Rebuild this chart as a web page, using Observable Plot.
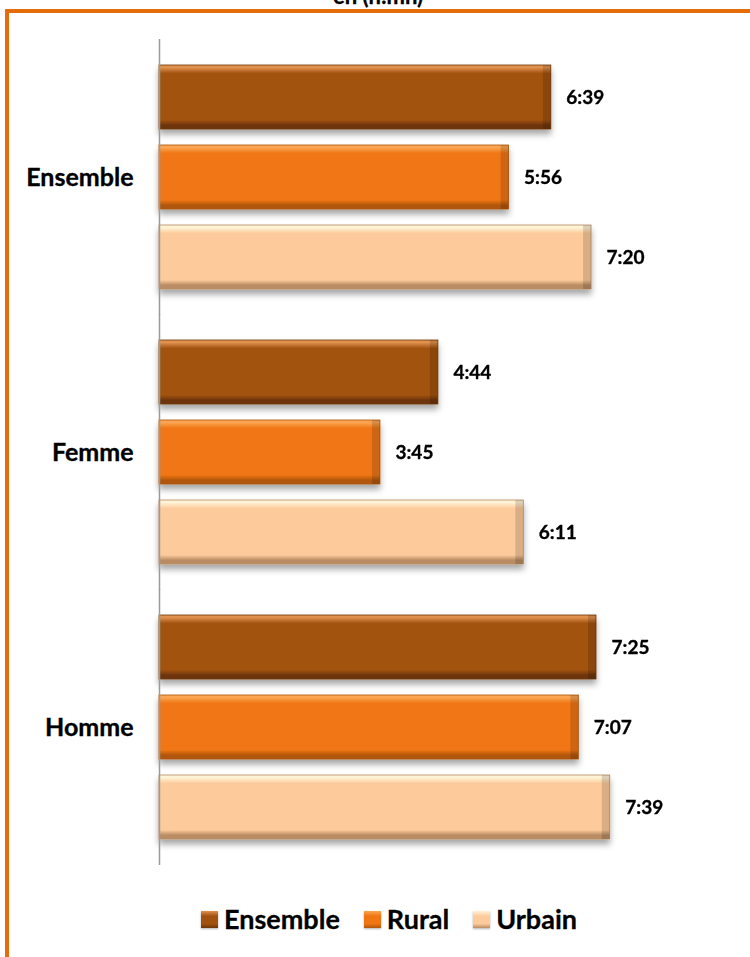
<!DOCTYPE html>
<html>
<head>
<meta charset="utf-8">
<script src="https://cdn.jsdelivr.net/npm/d3@7"></script>
<script src="https://cdn.jsdelivr.net/npm/@observablehq/plot@0.6"></script>
<style>
  html, body { margin: 0; padding: 0; background: #fff; }
  #wrap { position: relative; width: 750px; height: 957px; overflow: hidden; background: #fff; font-family: Lato, "Open Sans", sans-serif; }
  #frame { position: absolute; left: 5px; top: 9px; width: 900px; height: 1100px; border: 4px solid #E46C0A; box-sizing: border-box; }
  #title { position: absolute; left: 0; width: 756px; top: -15px; text-align: center; font-weight: bold; font-size: 22px; line-height: 22px; color: #000; -webkit-text-stroke: 0.3px #000; }
  #chart { position: absolute; left: 0; top: 0; }
  #legend { position: absolute; left: 0; width: 778px; top: 903px; display: flex; justify-content: center; align-items: center; font-weight: bold; font-size: 27px; line-height: 32px; color: #000; -webkit-text-stroke: 0.3px #000; }
  .item { display: flex; align-items: center; margin: 0 12px; }
  .sw { width: 17px; height: 17px; margin-right: 6px; box-shadow: 0 1px 2px rgba(0,0,0,0.3); }
</style>
</head>
<body>
<div id="wrap">
  <div id="frame"></div>
  <div id="title">en (h:mn)</div>
  <div id="chart"></div>
  <div id="legend"></div>
</div>
<script>
// ---- Data ----
const groups = ["Ensemble", "Femme", "Homme"];
const series = ["Ensemble", "Rural", "Urbain"];
const ensembleValues = ["6:39", "4:44", "7:25"];
const ruralValues = ["5:56", "3:45", "7:07"];
const urbainValues = ["7:20", "6:11", "7:39"];
const seriesColors = ["#A2520F", "#F07613", "#FDCB9B"];
const seriesTop = ["#E0914E", "#FBA552", "#FFF3D6"];
const seriesBottom = ["#6E3508", "#B0560C", "#B98C63"];

const valuesBySeries = [ensembleValues, ruralValues, urbainValues];
const toMinutes = s => { const [h, m] = s.split(":").map(Number); return h * 60 + m; };
const rows = groups.flatMap((g, i) => series.map((s, j) => ({
  group: g, series: s, label: valuesBySeries[j][i], minutes: toMinutes(valuesBySeries[j][i])
})));

const gradIds = series.map((s, i) => `grad${i}`);

const svg = Plot.plot({
  width: 750,
  height: 880,
  marginLeft: 159,
  marginRight: 100,
  marginTop: 41,
  marginBottom: 17,
  style: { fontFamily: "Lato, 'Open Sans', sans-serif", background: "transparent", overflow: "visible" },
  facet: { data: rows, y: "group" },
  fy: { domain: groups, paddingInner: 0.1273, paddingOuter: 0.058, axis: null, label: null },
  y: { domain: series, paddingInner: 0.2, paddingOuter: 0.1, axis: null, label: null },
  x: { domain: [0, 500], axis: null },
  color: { type: "ordinal", domain: series, range: gradIds.map(id => `url(#${id})`) },
  marks: [
    Plot.barX(rows, { x: "minutes", y: "series", fill: "series", stroke: d => seriesBottom[series.indexOf(d.series)], strokeWidth: 0.8 }),
    Plot.barX(rows, { x1: "minutes", x2: "minutes", y: "series", insetLeft: -8, fill: "#000", fillOpacity: 0.14 }),
    Plot.ruleX([0], { stroke: "#9a9a9a", strokeWidth: 1.5, insetTop: -18, insetBottom: -18 }),
    Plot.text(rows, { x: "minutes", y: "series", text: "label", dx: 15, textAnchor: "start", fontSize: 19, fontWeight: "bold", fill: "#000", stroke: "#000", strokeWidth: 0.35 }),
    Plot.text(rows, { filter: d => d.series === "Rural", y: "series", text: "group", frameAnchor: "left", dx: -26, textAnchor: "end", fontSize: 25, fontWeight: "bold", fill: "#000", stroke: "#000", strokeWidth: 0.35 })
  ]
});

// defs: bevel gradients + shadow
const sel = d3.select(svg);
const defs = sel.insert("defs", ":first-child");
series.forEach((s, i) => {
  const g = defs.append("linearGradient").attr("id", gradIds[i]).attr("x1", 0).attr("y1", 0).attr("x2", 0).attr("y2", 1);
  const stops = [
    [0, seriesTop[i]], [0.04, seriesTop[i]], [0.13, seriesColors[i]], [0.86, seriesColors[i]], [0.94, seriesBottom[i]], [1, seriesBottom[i]]
  ];
  stops.forEach(([o, c]) => g.append("stop").attr("offset", o).attr("stop-color", c));
});
const f = defs.append("filter").attr("id", "shadow").attr("x", "-5%").attr("y", "-20%").attr("width", "110%").attr("height", "160%");
f.append("feDropShadow").attr("dx", 0).attr("dy", 5).attr("stdDeviation", 3).attr("flood-color", "#000").attr("flood-opacity", 0.35);
sel.selectAll('g[aria-label="bar"]').filter((d, i) => i === 0).attr("filter", "url(#shadow)");

document.getElementById("chart").appendChild(svg);

// legend
const legend = d3.select("#legend");
series.forEach((s, i) => {
  const it = legend.append("div").attr("class", "item");
  it.append("div").attr("class", "sw")
    .style("background", `linear-gradient(to bottom, ${seriesTop[i]} 0%, ${seriesColors[i]} 30%, ${seriesColors[i]} 75%, ${seriesBottom[i]} 100%)`);
  it.append("span").text(s);
});
</script>
</body>
</html>
